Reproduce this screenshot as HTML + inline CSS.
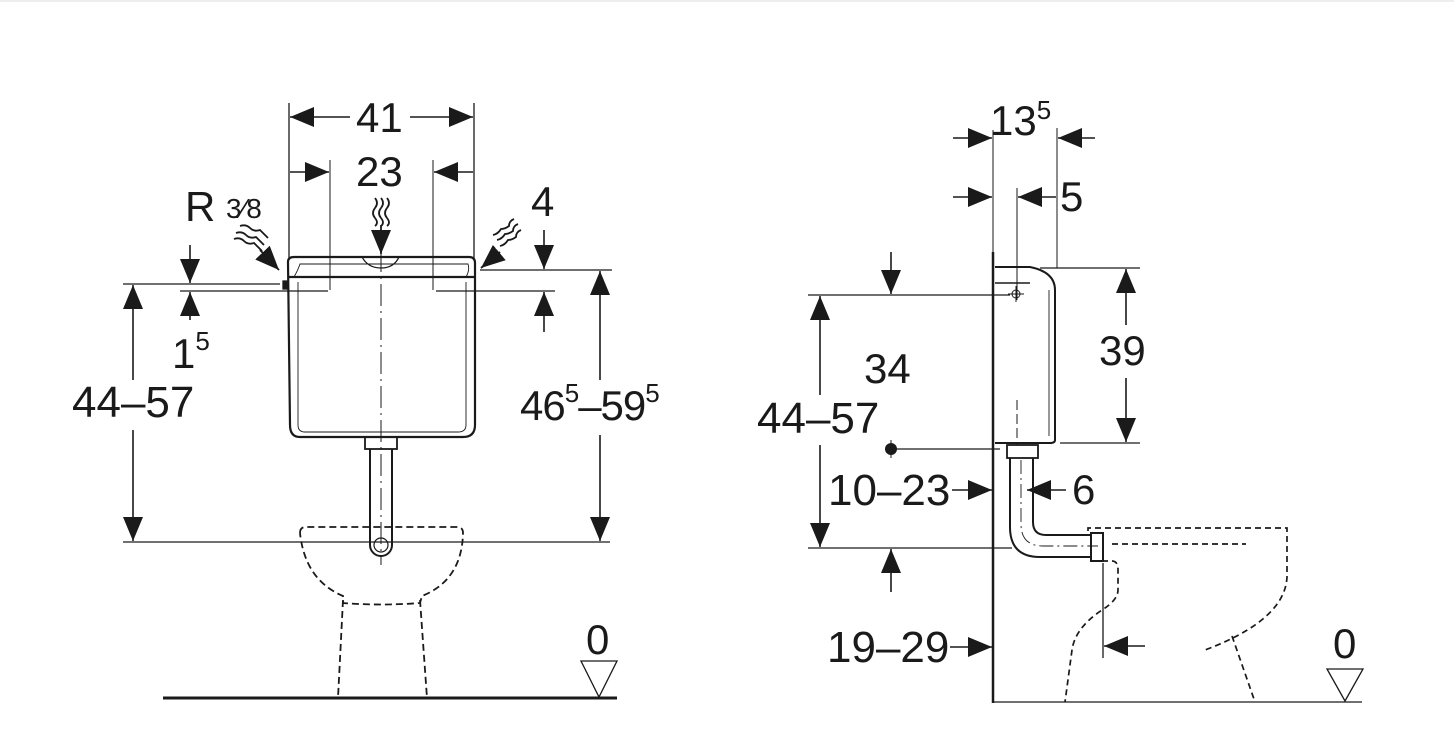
<!DOCTYPE html>
<html><head><meta charset="utf-8"><style>
html,body{margin:0;padding:0;background:#fff;}
svg{display:block;}
text{font-family:"Liberation Sans",Arial,sans-serif;fill:#1a1a1a;}
</style></head><body>
<svg width="1454" height="736" viewBox="0 0 1454 736" xmlns="http://www.w3.org/2000/svg">
<defs>
<marker id="a" markerUnits="userSpaceOnUse" markerWidth="26" markerHeight="20" refX="24" refY="10" orient="auto">
<path d="M0,0 L24,10 L0,20 Z" fill="#1a1a1a"/></marker>
</defs>
<rect x="0" y="0" width="1454" height="2" fill="#eee"/>
<g stroke="#1a1a1a" fill="none" stroke-width="1.3">
<line x1="289" y1="103" x2="289" y2="258"/>
<line x1="474" y1="103" x2="474" y2="258"/>
<line x1="330" y1="160" x2="330" y2="290" stroke-width="1"/>
<line x1="433" y1="160" x2="433" y2="290" stroke-width="1"/>
<line x1="350" y1="117" x2="290" y2="117" marker-end="url(#a)" stroke-width="1.6"/>
<line x1="410" y1="117" x2="473" y2="117" marker-end="url(#a)" stroke-width="1.6"/>
<line x1="290" y1="172" x2="329" y2="172" marker-end="url(#a)" stroke-width="1.6"/>
<line x1="473" y1="172" x2="434" y2="172" marker-end="url(#a)" stroke-width="1.6"/>
<path d="M288,262 Q288,257 294,257 L469,257 Q475,257 475,263 L475,425 Q475,437 463,437 L300,437 Q290,437 290,425 Z" stroke-width="2.2"/>
<line x1="288" y1="277" x2="475" y2="277" stroke-width="2.2"/>
<path d="M294,277 Q298,270 300,264 L468,264 Q470,270 466,277" stroke-width="0.9"/>
<path d="M298,282 L298,425 Q298,432 305,432 L458,432 Q466,432 466,425 L466,282" stroke-width="0.9"/>
<path d="M362,257 Q368,268 381,268 Q394,268 399,257" stroke-width="1.3"/>
<rect x="283" y="281" width="5" height="8" fill="#1a1a1a"/>
<line x1="381" y1="250" x2="381" y2="565" stroke-dasharray="22,5,2,5" stroke-width="1"/>
<rect x="365" y="437" width="32" height="12" stroke-width="1.8"/>
<path d="M370,449 L370,545 A11,11 0 0 0 392,545 L392,449" stroke-width="2"/>
<circle cx="381" cy="545" r="7" stroke-width="1.2"/>
<g stroke-dasharray="7,4" stroke-width="1.8">
<path d="M300,533 Q300,527 306,527 L457,527 Q463,527 463,533 Q462,580 422,596 L420,603 Q381,606 343,603 L343,596 Q305,580 300,533"/>
<path d="M343,600 L338,698"/>
<path d="M420,600 L427,698"/>
</g>
<line x1="163" y1="698" x2="617" y2="698" stroke-width="3"/>
<path d="M581,661 L617,661 L599,697 Z" stroke-width="1.3"/>
<line x1="123" y1="284" x2="280" y2="284"/>
<line x1="123" y1="542" x2="610" y2="542"/>
<line x1="133" y1="380" x2="133" y2="285" marker-end="url(#a)" stroke-width="1.6"/>
<line x1="133" y1="430" x2="133" y2="541" marker-end="url(#a)" stroke-width="1.6"/>
<line x1="180" y1="291" x2="328" y2="291"/>
<line x1="190" y1="245" x2="190" y2="283" marker-end="url(#a)" stroke-width="1.6"/>
<line x1="190" y1="320" x2="190" y2="292" marker-end="url(#a)" stroke-width="1.6"/>
<line x1="480" y1="270" x2="612" y2="270"/>
<line x1="436" y1="291" x2="555" y2="291"/>
<line x1="600" y1="380" x2="600" y2="271" marker-end="url(#a)" stroke-width="1.6"/>
<line x1="600" y1="435" x2="600" y2="541" marker-end="url(#a)" stroke-width="1.6"/>
<line x1="544" y1="230" x2="544" y2="269" marker-end="url(#a)" stroke-width="1.6"/>
<line x1="544" y1="332" x2="544" y2="292" marker-end="url(#a)" stroke-width="1.6"/>
<g stroke-width="1.8">
<line x1="381" y1="225" x2="381" y2="254" marker-end="url(#a)"/>
<path d="M375,198 q4,5 0,10 q-4,5 0,10 q4,5 0,8"/>
<path d="M381,198 q4,5 0,10 q-4,5 0,10 q4,5 0,8"/>
<path d="M387,198 q4,5 0,10 q-4,5 0,10 q4,5 0,8"/>
<line x1="260" y1="250" x2="279" y2="270" marker-end="url(#a)"/>
<path d="M236,233 q6,-2 10,2 q4,4 10,2 q4,4 8,8"/>
<path d="M234,239 q6,-2 10,2 q4,4 10,2 q4,4 8,8"/>
<path d="M240,226 q6,-2 10,2 q4,4 10,2 q4,4 8,8"/>
<line x1="500" y1="252" x2="481" y2="268" marker-end="url(#a)"/>
<path d="M518,224 q-5,2 -5,7 q-4,3 -8,3 q-3,5 -8,6"/>
<path d="M521,230 q-5,2 -5,7 q-4,3 -8,3 q-3,5 -8,6"/>
<path d="M514,219 q-5,2 -5,7 q-4,3 -8,3 q-3,5 -8,6"/>
</g>

<line x1="993" y1="252" x2="993" y2="703" stroke-width="2.5"/>
<line x1="993" y1="130" x2="993" y2="252" stroke-width="1"/>
<line x1="1057" y1="128" x2="1057" y2="268" stroke-width="1"/>
<line x1="1017" y1="188" x2="1017" y2="300" stroke-width="1"/>
<line x1="953" y1="138" x2="992" y2="138" marker-end="url(#a)" stroke-width="1.6"/>
<line x1="1095" y1="138" x2="1058" y2="138" marker-end="url(#a)" stroke-width="1.6"/>
<line x1="953" y1="197" x2="992" y2="197" marker-end="url(#a)" stroke-width="1.6"/>
<line x1="1056" y1="197" x2="1018" y2="197" marker-end="url(#a)" stroke-width="1.6"/>
<path d="M995,267 L1030,267 Q1055,272 1055,290 L1055,440 Q1055,443 1050,443 L995,443" stroke-width="2"/>
<line x1="995" y1="283" x2="1030" y2="283" stroke-width="1.6"/>
<path d="M1049,290 L1049,436" stroke-width="0.9"/>
<line x1="1017" y1="400" x2="1017" y2="445" stroke-dasharray="10,4" stroke-width="1"/>
<circle cx="1016" cy="294" r="4" stroke-width="1"/>
<line x1="1008" y1="294" x2="1024" y2="294" stroke-width="1"/>
<line x1="1016" y1="286" x2="1016" y2="302" stroke-width="1"/>
<line x1="1040" y1="268" x2="1140" y2="268"/>
<line x1="1060" y1="443" x2="1140" y2="443"/>
<line x1="1126" y1="325" x2="1126" y2="269" marker-end="url(#a)" stroke-width="1.6"/>
<line x1="1126" y1="378" x2="1126" y2="442" marker-end="url(#a)" stroke-width="1.6"/>
<line x1="808" y1="295" x2="1010" y2="295"/>
<line x1="891" y1="252" x2="891" y2="294" marker-end="url(#a)" stroke-width="1.6"/>
<line x1="896" y1="449" x2="1000" y2="449"/>
<circle cx="891" cy="449" r="6" fill="#1a1a1a" stroke="none"/>
<line x1="891" y1="440" x2="891" y2="458" stroke-width="1"/>
<line x1="808" y1="548" x2="1012" y2="548"/>
<line x1="820" y1="395" x2="820" y2="296" marker-end="url(#a)" stroke-width="1.6"/>
<line x1="820" y1="445" x2="820" y2="547" marker-end="url(#a)" stroke-width="1.6"/>
<line x1="891" y1="592" x2="891" y2="549" marker-end="url(#a)" stroke-width="1.6"/>
<line x1="952" y1="490" x2="992" y2="490" marker-end="url(#a)" stroke-width="1.6"/>
<line x1="1066" y1="490" x2="1027" y2="490" marker-end="url(#a)" stroke-width="1.6"/>
<line x1="950" y1="647" x2="992" y2="647" marker-end="url(#a)" stroke-width="1.6"/>
<rect x="1007" y="445" width="31" height="13" stroke-width="1.8"/>
<path d="M1010,458 L1010,527 Q1010,557 1040,557 L1092,557" stroke-width="2"/>
<path d="M1033,458 L1033,522 Q1033,535 1046,535 L1092,535" stroke-width="2"/>
<rect x="1091" y="533" width="12" height="28" stroke-width="2"/>
<path d="M1021,460 L1021,524 Q1021,546 1043,546 L1098,546" stroke-dasharray="14,4,2,4" stroke-width="0.9"/>
<g stroke-dasharray="6,4" stroke-width="1.7">
<path d="M1088,531 L1088,528 L1287,528 L1287,577 Q1285,620 1205,650"/>
<line x1="1112" y1="544" x2="1246" y2="544"/>
<path d="M1092,561 L1112,561 Q1118,561 1118,570 L1118,590 Q1118,600 1102,610 Q1075,628 1072,650 L1065,702"/>
<path d="M1232,636 L1255,702"/>
</g>
<line x1="1103" y1="563" x2="1103" y2="658" stroke-width="1.3"/>
<line x1="1145" y1="646" x2="1104" y2="646" marker-end="url(#a)" stroke-width="1.6"/>
<line x1="993" y1="702" x2="1362" y2="702" stroke-width="1.3"/>
<path d="M1327,669 L1363,669 L1345,701 Z" stroke-width="1.3"/>
</g>
<g font-size="42">
<text x="356" y="132">41</text>
<text x="356" y="186">23</text>
<text x="185" y="221">R</text>
<text x="226" y="218" font-size="28">3⁄8</text>
<text x="531" y="216">4</text>
<text x="172" y="368">1<tspan font-size="26" dy="-18">5</tspan></text>
<text x="72" y="417" font-size="44">44–57</text>
<text x="520" y="420" font-size="42" letter-spacing="-1">46<tspan font-size="26" dy="-18">5</tspan><tspan dy="18">–59</tspan><tspan font-size="26" dy="-18">5</tspan></text>
<text x="586" y="654">0</text>
<text x="990" y="135">13<tspan font-size="26" dy="-16">5</tspan></text>
<text x="1060" y="211">5</text>
<text x="1099" y="365">39</text>
<text x="864" y="383">34</text>
<text x="757" y="433" font-size="44">44–57</text>
<text x="828" y="505" font-size="44">10–23</text>
<text x="1072" y="504">6</text>
<text x="827" y="662" font-size="44">19–29</text>
<text x="1333" y="658">0</text>
</g>
</svg>
</body></html>
